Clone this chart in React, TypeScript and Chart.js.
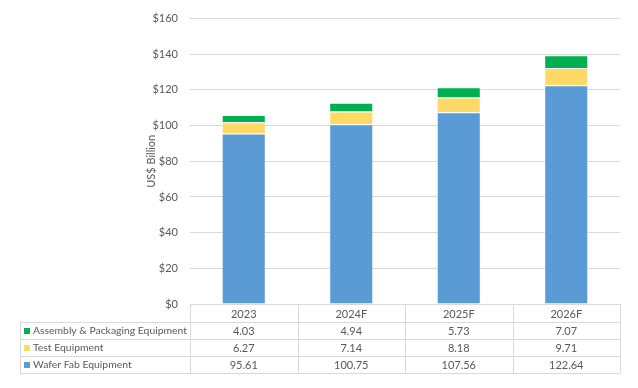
import React, { useEffect, useRef } from "react";
import { Chart, registerables } from "chart.js";

Chart.register(...registerables);

const categories = ["2023", "2024F", "2025F", "2026F"];
const waferFab = [95.61, 100.75, 107.56, 122.64];
const testEquip = [6.27, 7.14, 8.18, 9.71];
const assembly = [4.03, 4.94, 5.73, 7.07];
const yTicks = [0, 20, 40, 60, 80, 100, 120, 140, 160];

const FONT = "Lato, 'Open Sans', sans-serif";
const TEXT = "#595959";
const GRID = "#D9D9D9";

const tableRows = [
  { label: "Assembly & Packaging Equipment", color: "#00B050", values: assembly },
  { label: "Test Equipment", color: "#FFD966", values: testEquip },
  { label: "Wafer Fab Equipment", color: "#5B9BD5", values: waferFab },
];

const tablePlugin = {
  id: "dataTable",
  afterDraw(chart: any) {
    const ctx = chart.ctx;
    const area = chart.chartArea;
    const n = categories.length;
    const colW = (area.right - area.left) / n;
    const headerTop = area.bottom;
    const headerH = 18;
    const rowH = 17;
    const legendLeft = 20;
    const bottom = headerTop + headerH + rowH * tableRows.length;
    ctx.save();
    ctx.strokeStyle = GRID;
    ctx.lineWidth = 1;
    for (let i = 0; i <= n; i++) {
      const x = Math.round(area.left + i * colW) + 0.5;
      ctx.beginPath();
      ctx.moveTo(x, headerTop);
      ctx.lineTo(x, bottom);
      ctx.stroke();
    }
    ctx.beginPath();
    ctx.moveTo(legendLeft + 0.5, headerTop + headerH);
    ctx.lineTo(legendLeft + 0.5, bottom);
    ctx.stroke();
    for (let r = 0; r <= tableRows.length; r++) {
      const y = Math.round(headerTop + headerH + r * rowH) + 0.5;
      ctx.beginPath();
      ctx.moveTo(legendLeft, y);
      ctx.lineTo(area.right, y);
      ctx.stroke();
    }
    ctx.fillStyle = TEXT;
    ctx.font = `11px ${FONT}`;
    ctx.textBaseline = "middle";
    ctx.textAlign = "center";
    const xs = chart.scales.x;
    categories.forEach((c, i) => {
      ctx.fillText(c, xs.getPixelForValue(i), headerTop + headerH / 2 + 1);
    });
    tableRows.forEach((row, r) => {
      const cy = headerTop + headerH + r * rowH + rowH / 2 + 0.5;
      ctx.fillStyle = row.color;
      ctx.fillRect(legendLeft + 4, cy - 3, 6, 6);
      ctx.fillStyle = TEXT;
      ctx.textAlign = "left";
      ctx.font = `10.4px ${FONT}`;
      ctx.fillText(row.label, legendLeft + 13, cy);
      ctx.textAlign = "center";
      ctx.font = `11px ${FONT}`;
      row.values.forEach((v, i) => {
        ctx.fillText(v.toFixed(2), xs.getPixelForValue(i), cy);
      });
    });
    ctx.restore();
  },
};

export default function App() {
  const ref = useRef<HTMLCanvasElement>(null);
  useEffect(() => {
    document.body.style.margin = "0";
    const chart = new Chart(ref.current as HTMLCanvasElement, {
      type: "bar",
      data: {
        labels: categories,
        datasets: [
          { label: "Wafer Fab Equipment", data: waferFab, backgroundColor: "#5B9BD5", borderColor: "rgba(255,255,255,0.5)", borderWidth: 1 },
          { label: "Test Equipment", data: testEquip, backgroundColor: "#FFD966", borderColor: "rgba(255,255,255,0.5)", borderWidth: 1 },
          { label: "Assembly & Packaging Equipment", data: assembly, backgroundColor: "#00B050", borderColor: "rgba(255,255,255,0.5)", borderWidth: 1 },
        ],
      },
      options: {
        animation: false,
        responsive: false,
        maintainAspectRatio: false,
        layout: { padding: { left: 141, right: 18, top: 18, bottom: 84 } },
        datasets: { bar: { categoryPercentage: 1, barPercentage: 0.41 } },
        plugins: { legend: { display: false }, tooltip: { enabled: false } },
        scales: {
          x: { stacked: true, display: false },
          y: {
            stacked: true,
            min: 0,
            max: 160,
            afterFit: (s: any) => { s.width = 49; },
            afterBuildTicks: (s: any) => { s.ticks = yTicks.map((v) => ({ value: v })); },
            border: { display: false },
            grid: { color: GRID, drawTicks: false },
            ticks: {
              color: TEXT,
              padding: 12,
              font: { family: FONT, size: 11 },
              callback: (v: any) => "$" + v,
            },
            title: {
              display: true,
              text: "US$ Billion",
              color: TEXT,
              font: { family: FONT, size: 11 },
            },
          },
        },
      },
      plugins: [tablePlugin],
    });
    return () => chart.destroy();
  }, []);
  return (
    <div style={{ width: 638, height: 388 }}>
      <canvas ref={ref} width={638} height={388} style={{ display: "block" }} />
    </div>
  );
}
